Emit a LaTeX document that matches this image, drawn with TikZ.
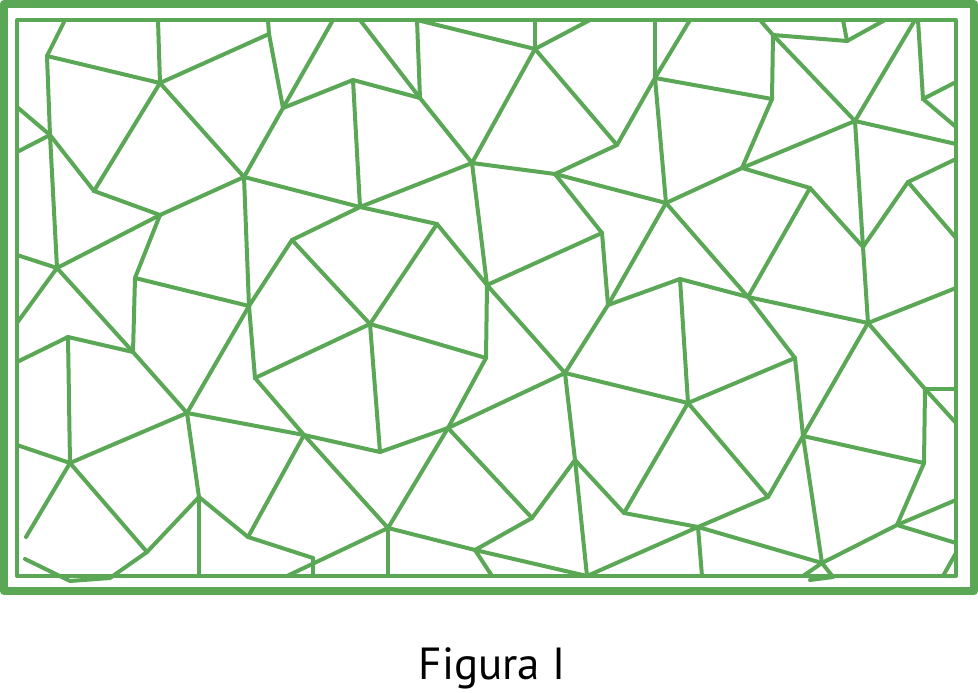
\documentclass[tikz,border=0pt]{standalone}
\usepackage{fontspec}
\setmainfont{PT Sans}
\definecolor{leafgreen}{RGB}{90,167,86}
\begin{document}
\begin{tikzpicture}[x=1pt,y=-1pt,line cap=round,line join=round]
\useasboundingbox (0,0) rectangle (978,693);
\tikzset{edge/.style={draw=leafgreen,line width=4pt}}
% frame
\draw[leafgreen,line width=8pt,line cap=butt] (4,4) rectangle (974,591);
\draw[leafgreen,line width=4pt,line cap=butt] (17,20) rectangle (956,576);
% points on the frame
\foreach \n/\x in {t1/65,t2/158,t3/268,t4/333,t5/360,t6/417,t7/535,t8/590,
    t9/655,t10/690,t11/760,t12/843,t13/885,t14/915,t15/918}
    \coordinate (\n) at (\x,20);
\foreach \n/\x in {b2/199,b3/287,b4/313,b5/388,b6/492,b7/587,b8/702,b9/803,b11/943}
    \coordinate (\n) at (\x,576);
\foreach \n/\y in {l1/107,l2/152,l3/255,l4/323,l5/362,l6/445}
    \coordinate (\n) at (17,\y);
\foreach \n/\y in {r1/82,r2/127,r3/144,r4/159,r5/238,r6/288,r7/389,r8/423,
    r9/500,r10/543,r11/553}
    \coordinate (\n) at (956,\y);
% inner points
\foreach \n/\x/\y in {A1/47/56,B1/160/83,C1/269/34,D1/283/108,E/353/80,F/244/177,
    G/94/191,H/50/135,I/57/268,J/160/215,K/135/278,L/133/352,M/249/306,N/360/207,
    O/292/240,P/255/378,Q/370/324,R/486/358,S/380/452,T/437/224,U/487/285,
    V/472/163,W/565/373,X/420/98,Y/535/49,Z/617/145,AA/655/78,AB/555/174,
    AC/666/203,AD/602/233,AE/608/305,AF/680/279,AG/772/99,AH/773/35,AI/847/41,
    AJ/855/121,AK/923/99,AL/863/247,AM/742/168,AN/810/188,AO/908/182,AP/868/323,
    AQ/748/297,AR/795/358,AS/822/563,AT/688/403,AU/768/497,AV/803/436,
    AW/925/389,AX/924/463,AY/897/525,AZ/698/527,BA/624/513,BB/448/428,
    BC/575/460,BD/388/528,BE/532/518,BG/475/550,BH/304/435,BI/68/337,
    BJ/187/413,BK/70/463,BL/147/552,BM/199/497,BN/248/537,BO/313/558,
    BP/70/581,BQ/110/578,e1/25/559,e2/26/537,e3/833/577,e4/810/580}
    \coordinate (\n) at (\x,\y);
% upper left
\foreach \a/\b in {t1/A1,A1/B1,t2/B1,B1/C1,t3/C1,C1/D1,t4/D1,D1/E,D1/F,B1/F,
    B1/G,A1/H,H/I,l1/H,H/l2,H/G,G/J,J/F,J/I,J/K,K/L,K/M,F/M,F/N,O/N,O/Q,
    I/l3,I/l4,I/L,O/M,M/P,P/Q}
    \draw[edge] (\a)--(\b);
% middle
\foreach \a/\b in {Q/T,Q/R,Q/S,U/V,U/R,T/U,N/T,U/W,t5/X,t6/X,t6/Y,t7/Y,Y/t8,
    Y/Z,Z/AA,AB/Z,AA/t9,Y/V,X/V,E/X,E/N,V/N,V/AB,AB/AC,AB/AD,AD/U,AD/AE,
    AE/AF,AE/AC,W/AE}
    \draw[edge] (\a)--(\b);
% right
\foreach \a/\b in {AA/t10,AA/AG,AA/AC,AG/AH,AH/t11,AH/AI,AI/t12,AI/t13,AH/AJ,
    AJ/t14,t15/AK,AK/r1,AK/r2,AJ/r3,AJ/AL,AJ/AM,AM/AG,AM/AC,AM/AN,AN/AL,
    AL/AO,AO/r4,AO/r5,AL/AP,AN/AQ,AC/AQ,AF/AQ,AF/AT,AQ/AP,AQ/AR,r6/AP,
    AR/AV,AV/AS,AR/AT,AT/W,AT/BA,AT/AU,AU/AV,AV/AP,AP/AW,AW/r7,AW/AX,AW/r8,
    AX/AV,AX/AY,AY/r9,AY/r10,AY/AS,AS/b9,AS/e3,e3/e4,AS/AZ,AZ/AU,AZ/b8,
    AZ/BA,AZ/b7,b11/r11}
    \draw[edge] (\a)--(\b);
% lower middle
\foreach \a/\b in {W/BB,W/BC,BB/S,BB/BD,BB/BE,BB/R,BE/BC,BC/BA,BC/b7,BE/BG,
    BG/b7,BG/b6,BD/BG,BD/b5,BD/b3,BD/BH,S/BH,P/BH,BH/BN,BH/BJ}
    \draw[edge] (\a)--(\b);
% lower left
\foreach \a/\b in {L/BI,BI/l5,BI/BK,BK/l6,BK/BJ,BK/e2,BK/BL,L/BJ,BJ/M,BJ/BM,
    BM/BL,BM/b2,BM/BN,BN/BO,BO/b4}
    \draw[edge] (\a)--(\b);
\draw[edge] (e1)--(BP)--(BQ)--(BL);
% caption
\node[anchor=base] (caption) at (492,679) {\fontsize{45}{54}\selectfont Figura I};
\end{tikzpicture}
\end{document}
